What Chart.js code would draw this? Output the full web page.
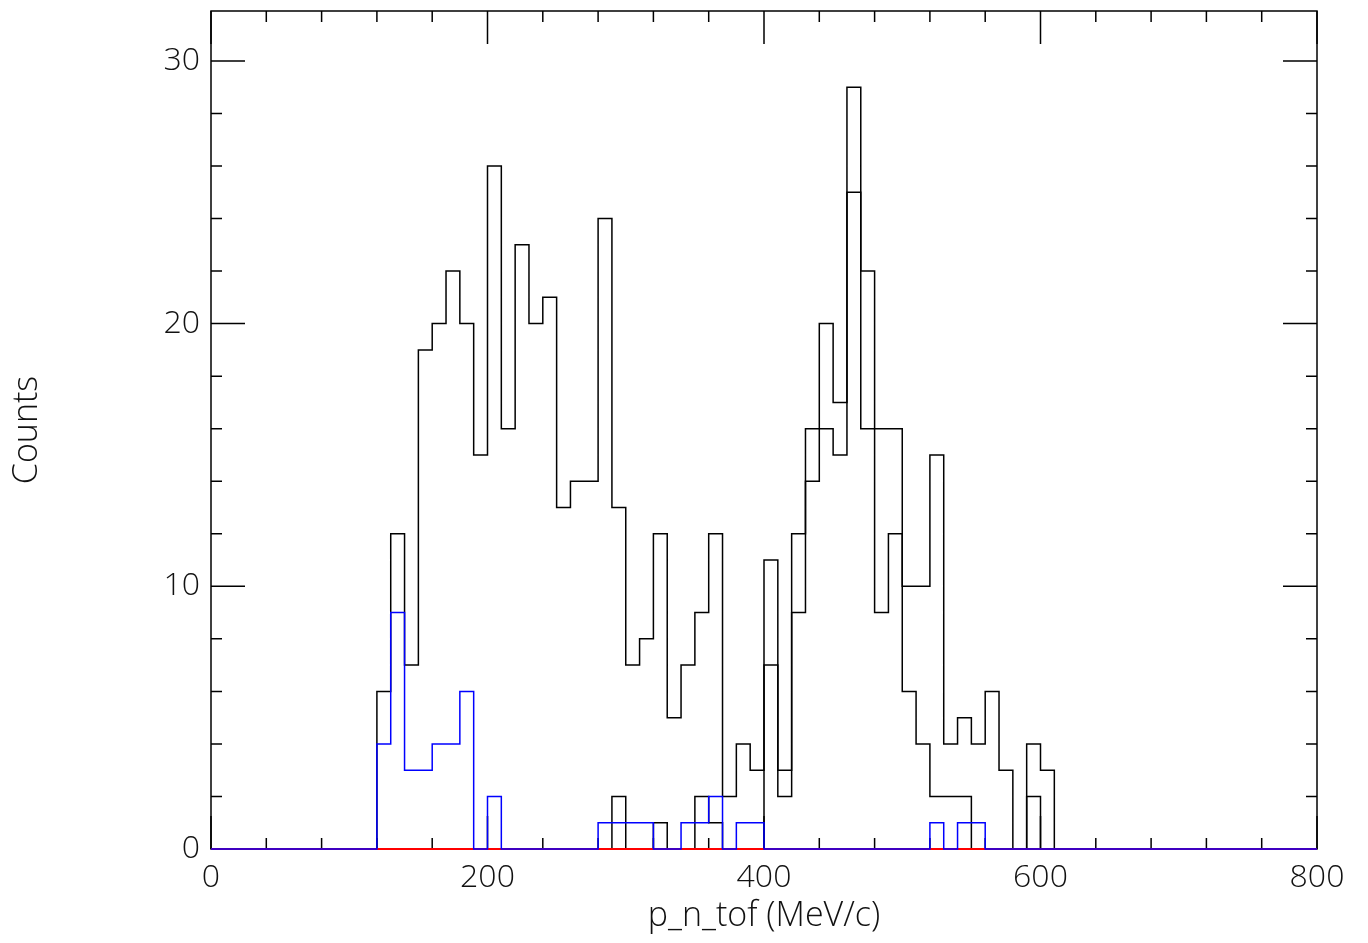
<!DOCTYPE html>
<html>
<head>
<meta charset="utf-8">
<script src="https://cdn.jsdelivr.net/npm/chart.js@4.4.1/dist/chart.umd.min.js"></script>
<style>
html, body { margin: 0; padding: 0; background: #fff; }
canvas { display: block; }
</style>
</head>
<body>
<canvas id="c" width="1368" height="943"></canvas>
<script>
// p_n_tof histograms: 80 bins of 10 MeV/c, 0..800
var binWidth = 10;
var xMin = 0, xMax = 800, yMax = 31.9;

var countsA = [
	0, 0, 0, 0, 0, 0, 0, 0, 0, 0,
	0, 0, 6, 12, 7, 19, 20, 22, 20, 15,
	26, 16, 23, 20, 21, 13, 14, 14, 24, 13,
	7, 8, 12, 5, 7, 9, 12, 2, 4, 3,
	11, 3, 12, 16, 20, 17, 29, 22, 16, 16,
	6, 4, 2, 2, 2, 0, 0, 0, 0, 2,
	0, 0, 0, 0, 0, 0, 0, 0, 0, 0,
	0, 0, 0, 0, 0, 0, 0, 0, 0, 0
];

var countsB = [
	0, 0, 0, 0, 0, 0, 0, 0, 0, 0,
	0, 0, 0, 0, 0, 0, 0, 0, 0, 0,
	0, 0, 0, 0, 0, 0, 0, 0, 0, 2,
	0, 0, 1, 0, 0, 2, 1, 0, 0, 0,
	7, 2, 9, 14, 16, 15, 25, 16, 9, 12,
	10, 10, 15, 4, 5, 4, 6, 3, 0, 4,
	3, 0, 0, 0, 0, 0, 0, 0, 0, 0,
	0, 0, 0, 0, 0, 0, 0, 0, 0, 0
];

var countsBlue = [
	0, 0, 0, 0, 0, 0, 0, 0, 0, 0,
	0, 0, 4, 9, 3, 3, 4, 4, 6, 0,
	2, 0, 0, 0, 0, 0, 0, 0, 1, 1,
	1, 1, 0, 0, 1, 1, 2, 0, 1, 1,
	0, 0, 0, 0, 0, 0, 0, 0, 0, 0,
	0, 0, 1, 0, 1, 1, 0, 0, 0, 0,
	0, 0, 0, 0, 0, 0, 0, 0, 0, 0,
	0, 0, 0, 0, 0, 0, 0, 0, 0, 0
];

var countsRed = [
	0, 0, 0, 0, 0, 0, 0, 0, 0, 0,
	0, 0, 0, 0, 0, 0, 0, 0, 0, 0,
	0, 0, 0, 0, 0, 0, 0, 0, 0, 0,
	0, 0, 0, 0, 0, 0, 0, 0, 0, 0,
	0, 0, 0, 0, 0, 0, 0, 0, 0, 0,
	0, 0, 0, 0, 0, 0, 0, 0, 0, 0,
	0, 0, 0, 0, 0, 0, 0, 0, 0, 0,
	0, 0, 0, 0, 0, 0, 0, 0, 0, 0
];

var xTitle = "p_n_tof (MeV/c)";
var yTitle = "Counts";

var fontFamily = "'Open Sans', 'DejaVu Sans', sans-serif";

// one point per bin low edge, plus the upper edge of the last bin
function toSteps(counts) {
	var pts = [];
	for (var i = 0; i < counts.length; i++) {
		pts.push({x: xMin + i * binWidth, y: counts[i]});
	}
	pts.push({x: xMin + counts.length * binWidth, y: counts[counts.length - 1]});
	return pts;
}

function histSet(counts, color, width, order) {
	return {
		data: toSteps(counts),
		borderColor: color,
		borderWidth: width,
		stepped: true,
		pointRadius: 0,
		fill: false,
		clip: false,
		order: order
	};
}

// PAW style frame: inward ticks on all four sides
var frameTicks = {
	id: 'frameTicks',
	beforeDatasetsDraw: function(chart) {
		var ctx = chart.ctx;
		var a = chart.chartArea;
		var sx = chart.scales.x, sy = chart.scales.y;
		ctx.save();
		ctx.strokeStyle = '#000';
		ctx.lineWidth = 1.5;
		ctx.strokeRect(a.left, a.top, a.right - a.left, a.bottom - a.top);
		ctx.beginPath();
		var v, p, len;
		for (v = xMin; v <= xMax; v += 40) {
			p = sx.getPixelForValue(v);
			len = (v % 200 === 0) ? 33 : 11;
			ctx.moveTo(p, a.top);
			ctx.lineTo(p, a.top + len);
			ctx.moveTo(p, a.bottom);
			ctx.lineTo(p, a.bottom - len);
		}
		for (v = 0; v <= yMax; v += 2) {
			p = sy.getPixelForValue(v);
			len = (v % 10 === 0) ? 34 : 11;
			ctx.moveTo(a.left, p);
			ctx.lineTo(a.left + len, p);
			ctx.moveTo(a.right, p);
			ctx.lineTo(a.right - len, p);
		}
		ctx.stroke();
		ctx.restore();
	}
};

var tickFont = {family: fontFamily, size: 32, weight: 300};
var titleFont = {family: fontFamily, size: 34, weight: 300};

new Chart(document.getElementById('c').getContext('2d'), {
	type: 'line',
	data: {
		datasets: [
			histSet(countsBlue, '#0000ff', 1.5, 0),
			histSet(countsRed, '#ff0000', 2, 1),
			histSet(countsB, '#000000', 1.5, 2),
			histSet(countsA, '#000000', 1.5, 3)
		]
	},
	options: {
		responsive: false,
		animation: false,
		devicePixelRatio: 1,
		layout: {padding: {left: 0, right: 51, top: 11, bottom: 0}},
		plugins: {legend: {display: false}, tooltip: {enabled: false}},
		scales: {
			x: {
				type: 'linear',
				min: xMin,
				max: xMax,
				afterFit: function(s) {
					s.height = 94;
					s.paddingLeft = 0;
					s.paddingRight = 0;
				},
				grid: {display: false, drawTicks: false},
				border: {display: false},
				ticks: {stepSize: 200, padding: 10, color: '#111', font: tickFont, maxRotation: 0},
				title: {display: true, text: xTitle, color: '#111', font: titleFont, padding: {top: 0, bottom: 6}}
			},
			y: {
				type: 'linear',
				min: 0,
				max: yMax,
				afterFit: function(s) {
					s.width = 211;
					s.paddingTop = 0;
					s.paddingBottom = 0;
				},
				grid: {display: false, drawTicks: false},
				border: {display: false},
				ticks: {stepSize: 10, padding: 11, color: '#111', font: tickFont, includeBounds: false},
				title: {display: true, text: yTitle, color: '#111', font: titleFont, padding: {top: 7, bottom: 0}}
			}
		}
	},
	plugins: [frameTicks]
});
</script>
</body>
</html>
